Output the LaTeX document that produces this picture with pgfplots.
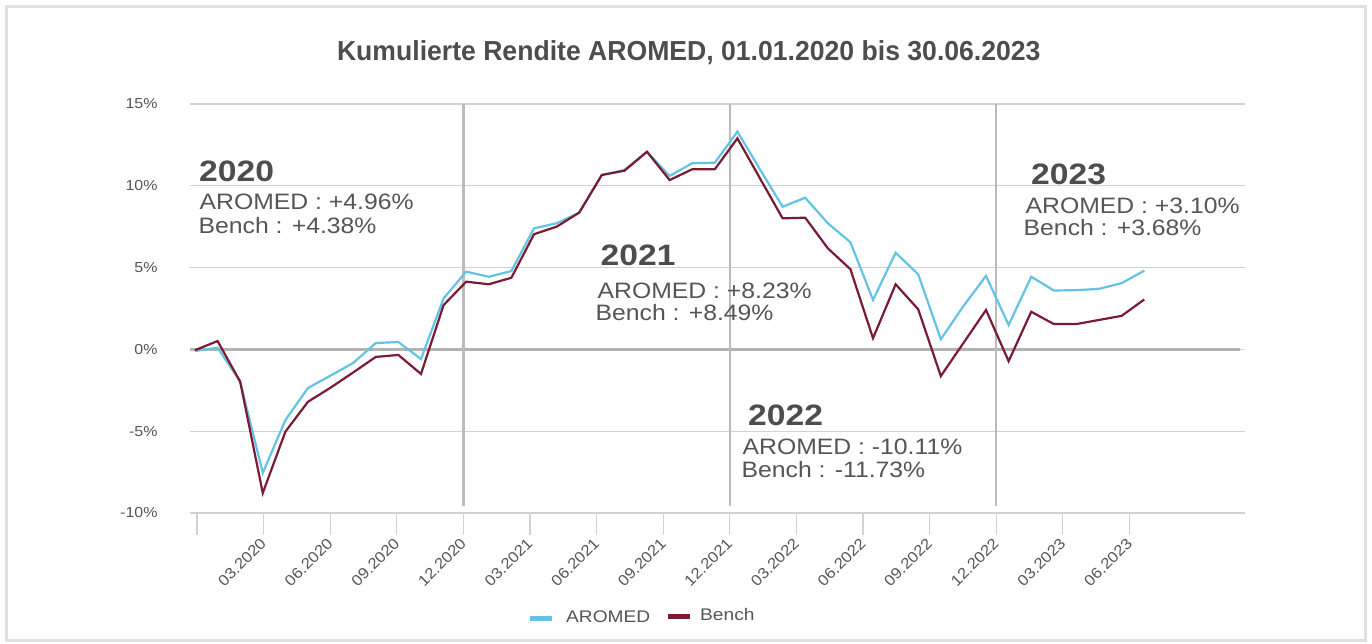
\documentclass[border=0pt]{standalone}
\usepackage{fontspec}
\setmainfont{Liberation Sans}
\newfontfamily\annfont[FakeStretch=1.11]{Liberation Sans}
\newfontfamily\yearfont[FakeStretch=1.14]{Liberation Sans}
\newfontfamily\titlefont[FakeStretch=0.967]{Liberation Sans}
\newfontfamily\legfont[FakeStretch=1.14]{Liberation Sans}
\newfontfamily\tickfont[FakeStretch=1.1]{Liberation Sans}
\usepackage{pgfplots}
\pgfplotsset{compat=1.18}

\definecolor{aromed}{HTML}{64C2E4}
\definecolor{bench}{HTML}{7A1B34}
\definecolor{gridc}{HTML}{D2D2D2}
\definecolor{zeroc}{HTML}{B3B3B3}
\definecolor{vlinec}{HTML}{BBBBBB}
\definecolor{txt}{HTML}{555555}
\definecolor{yeartxt}{HTML}{4D4D4D}
\definecolor{frame}{HTML}{E0E0E0}

% month index 0 = 12.2019
\pgfplotstableread{
m  val
0  -0.10
1  0.10
2  -1.97
3  -7.55
4  -4.32
5  -2.36
6  -1.60
7  -0.83
8  0.39
9  0.45
10 -0.59
11 3.12
12 4.75
13 4.44
14 4.79
15 7.40
16 7.71
17 8.36
18 10.66
19 10.97
20 12.08
21 10.60
22 11.38
23 11.41
24 13.31
25 11.00
26 8.72
27 9.27
28 7.71
29 6.55
30 3.02
31 5.91
32 4.59
33 0.62
34 2.65
35 4.49
36 1.49
37 4.44
38 3.60
39 3.62
40 3.70
41 4.05
42 4.81
}\aromeddata

\pgfplotstableread{
m  val
0  -0.05
1  0.51
2  -1.97
3  -8.78
4  -5.03
5  -3.20
6  -2.34
7  -1.41
8  -0.46
9  -0.34
10 -1.50
11 2.71
12 4.14
13 3.98
14 4.38
15 7.04
16 7.50
17 8.36
18 10.66
19 10.92
20 12.08
21 10.35
22 11.01
23 11.01
24 12.90
25 10.45
26 8.01
27 8.05
28 6.18
29 4.90
30 0.68
31 3.98
32 2.45
33 -1.63
34 0.39
35 2.41
36 -0.72
37 2.30
38 1.55
39 1.55
40 1.80
41 2.05
42 3.05
}\benchdata

\begin{document}
\begin{tikzpicture}[x=1pt,y=1pt]
\useasboundingbox (0,0) rectangle (1372,644);
\draw[frame, line width=2.5pt] (6.5,3.5) rectangle (1365.5,637.5);

\node[anchor=base, inner sep=0, text=yeartxt] at (688.8,583)
  {\titlefont\bfseries\fontsize{27.5}{30}\selectfont Kumulierte Rendite AROMED, 01.01.2020 bis 30.06.2023};

\begin{axis}[
    at={(190pt,131pt)}, anchor=south west,
    scale only axis,
    width=1055pt, height=409pt,
    xmin=-0.22, xmax=46.46,
    ymin=-10, ymax=15,
    axis x line*=bottom,
    axis y line*=left,
    y axis line style={draw=none},
    x axis line style={draw=gridc, line width=1.2pt},
    ytick={-10,-5,0,5,10,15},
    yticklabels={-10\%,-5\%,0\%,5\%,10\%,15\%},
    ymajorgrids,
    grid style={draw=gridc, line width=1.2pt},
    ytick style={draw=none},
    xtick={0.09,3.03,5.98,8.93,11.88,14.82,17.77,20.72,23.66,26.61,29.56,32.50,35.45,38.40,41.35},
    xticklabels={,03.2020,06.2020,09.2020,12.2020,03.2021,06.2021,09.2021,12.2021,03.2022,06.2022,09.2022,12.2022,03.2023,06.2023},
    tick align=outside,
    major tick length=22pt,
    xtick style={draw=gridc, line width=1.2pt},
    yticklabel style={font=\tickfont\fontsize{14.5}{15}\selectfont, text=txt, anchor=east, xshift=-7pt},
    xticklabel style={font=\tickfont\fontsize{15.2}{16}\selectfont, text=txt, rotate=45, anchor=east, inner sep=2pt, xshift=-2pt, yshift=-4pt},
    clip=false,
]
% reference lines: zero line and year separators
\draw[zeroc, line width=3pt] (axis cs:-0.22,0) -- (axis cs:46.24,0);
\draw[vlinec, line width=2.4pt] (axis cs:11.88,-9.57) -- (axis cs:11.88,15);
\draw[vlinec, line width=2.4pt] (axis cs:23.66,-9.57) -- (axis cs:23.66,15);
\draw[vlinec, line width=2.4pt] (axis cs:35.45,-9.57) -- (axis cs:35.45,15);

\addplot[aromed, line width=2.2pt, no markers] table[x=m, y=val] {\aromeddata};
\addplot[bench, line width=2.2pt, no markers] table[x=m, y=val] {\benchdata};
\end{axis}

% year annotations
\begin{scope}[every node/.style={anchor=base west, inner sep=0}]
\node[text=yeartxt] at (199,462.3) {\yearfont\bfseries\fontsize{29.5}{30}\selectfont 2020};
\node[text=txt] at (199.5,434.7) {\annfont\fontsize{22.3}{24}\selectfont AROMED : +4.96\%};
\node[text=txt] at (198.5,410) {\annfont\fontsize{22.3}{24}\selectfont Bench : +4.38\%};

\node[text=yeartxt] at (600.5,378.3) {\yearfont\bfseries\fontsize{29.5}{30}\selectfont 2021};
\node[text=txt] at (597.5,345.7) {\annfont\fontsize{22.3}{24}\selectfont AROMED : +8.23\%};
\node[text=txt] at (595.5,323.3) {\annfont\fontsize{22.3}{24}\selectfont Bench : +8.49\%};

\node[text=yeartxt] at (748,218) {\yearfont\bfseries\fontsize{29.5}{30}\selectfont 2022};
\node[text=txt] at (742.5,189.7) {\annfont\fontsize{22.3}{24}\selectfont AROMED : -10.11\%};
\node[text=txt] at (741.5,166.7) {\annfont\fontsize{22.3}{24}\selectfont Bench : -11.73\%};

\node[text=yeartxt] at (1031,459.4) {\yearfont\bfseries\fontsize{29.5}{30}\selectfont 2023};
\node[text=txt] at (1025.5,430) {\annfont\fontsize{22.3}{24}\selectfont AROMED : +3.10\%};
\node[text=txt] at (1023.5,408) {\annfont\fontsize{22.3}{24}\selectfont Bench : +3.68\%};

% legend
\draw[aromed, line width=5pt] (530,25.7) -- (552,25.7);
\node[text=txt] at (566,21.3) {\legfont\fontsize{16.8}{18}\selectfont AROMED};
\draw[bench, line width=5pt] (668,27.3) -- (690,27.3);
\node[text=txt] at (700,23.3) {\legfont\fontsize{16.8}{18}\selectfont Bench};
\end{scope}
\end{tikzpicture}
\end{document}
